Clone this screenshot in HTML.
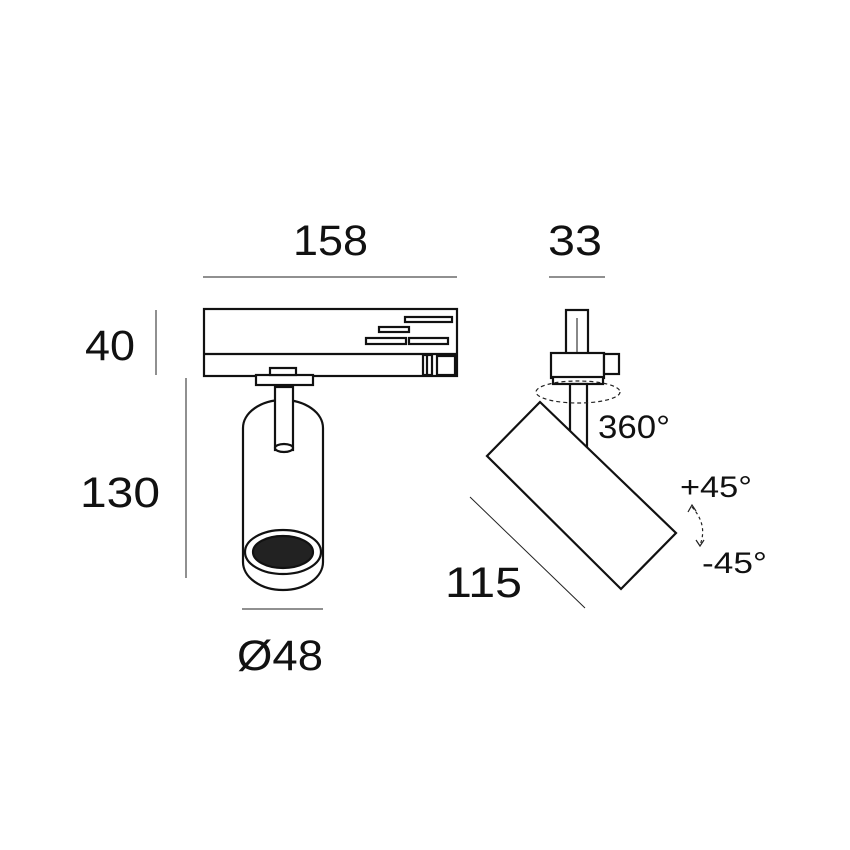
<!DOCTYPE html>
<html><head><style>
html,body{margin:0;padding:0;background:#fff;}
svg{display:block}
text{font-family:"Liberation Sans",sans-serif;fill:#111}
</style></head><body>
<svg width="850" height="850" viewBox="0 0 850 850" xmlns="http://www.w3.org/2000/svg">
<g stroke="#222" stroke-width="1" fill="none">
<line x1="203" y1="277" x2="457" y2="277"/>
<line x1="549" y1="277" x2="605" y2="277"/>
<line x1="156" y1="310" x2="156" y2="375"/>
<line x1="186" y1="378" x2="186" y2="578"/>
<line x1="242" y1="609" x2="323" y2="609"/>
<line x1="470" y1="497" x2="585" y2="608"/>
</g>
<text x="293" y="255" font-size="43" textLength="75" lengthAdjust="spacingAndGlyphs">158</text>
<text x="548" y="255" font-size="43" textLength="54" lengthAdjust="spacingAndGlyphs">33</text>
<text x="85" y="360" font-size="43" textLength="50" lengthAdjust="spacingAndGlyphs">40</text>
<text x="80" y="507" font-size="43" textLength="80" lengthAdjust="spacingAndGlyphs">130</text>
<text x="237" y="670" font-size="43" textLength="86" lengthAdjust="spacingAndGlyphs">Ø48</text>
<text x="445" y="597" font-size="43" textLength="77" lengthAdjust="spacingAndGlyphs">115</text>
<text x="598" y="438" font-size="32" textLength="72" lengthAdjust="spacingAndGlyphs">360°</text>
<text x="680" y="497" font-size="30" textLength="72" lengthAdjust="spacingAndGlyphs">+45°</text>
<text x="702" y="573" font-size="30" textLength="65" lengthAdjust="spacingAndGlyphs">-45°</text>
<g stroke="#111" stroke-width="2.2" fill="#fff">
<rect x="204" y="309" width="253" height="67"/>
<line x1="204" y1="354" x2="457" y2="354"/>
<rect x="405" y="317" width="47" height="5"/>
<rect x="379" y="327" width="30" height="5"/>
<rect x="366" y="338" width="40" height="6"/>
<rect x="409" y="338" width="39" height="6"/>
<rect x="423" y="355" width="9" height="20"/>
<line x1="427" y1="355" x2="427" y2="375"/>
<rect x="437" y="356" width="18" height="19"/>
<rect x="243" y="400" width="80" height="190" rx="40" ry="28"/>
<ellipse cx="283" cy="552" rx="38" ry="22"/>
<ellipse cx="283" cy="552" rx="30" ry="16" fill="#222"/>
<rect x="275" y="387" width="18" height="63"/>
<ellipse cx="284" cy="448" rx="9" ry="4"/>
<rect x="256" y="375" width="57" height="10"/>
<rect x="270" y="368" width="26" height="7"/>
<rect x="566" y="310" width="22" height="46"/>
<line x1="577" y1="318" x2="577" y2="352" stroke-width="1"/>
<rect x="551" y="353" width="53" height="25"/>
<rect x="604" y="354" width="15" height="20"/>
<rect x="553" y="377" width="50" height="7"/>
<rect x="570" y="384" width="17" height="62"/>
<polygon points="540,402 487,456 621,589 676,533"/>
</g>
<ellipse cx="578" cy="392" rx="42" ry="11" fill="none" stroke="#222" stroke-width="1.2" stroke-dasharray="4,3"/>
<path d="M692 507 Q708 525 700 545" fill="none" stroke="#222" stroke-width="1.2" stroke-dasharray="3,3"/>
<path d="M688 512 L692 505 L696 511" fill="none" stroke="#222" stroke-width="1.2"/>
<path d="M696 540 L700 546 L704 540" fill="none" stroke="#222" stroke-width="1.2"/>
</svg>
</body></html>
